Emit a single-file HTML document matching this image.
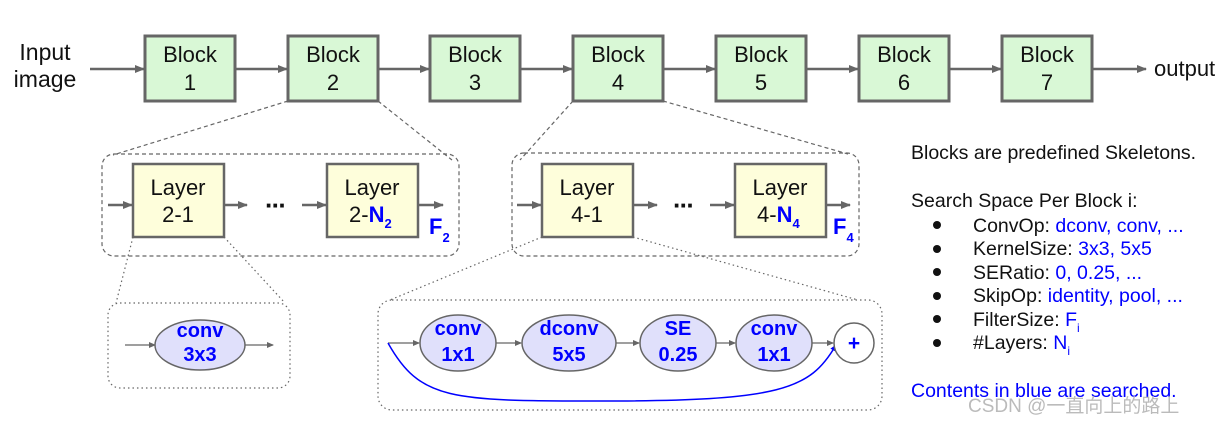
<!DOCTYPE html>
<html><head><meta charset="utf-8"><style>
body{margin:0;background:#fff}
svg{display:block}
text{font-family:"Liberation Sans",Arial,sans-serif}
</style></head><body>
<svg width="1228" height="422" viewBox="0 0 1228 422" xmlns="http://www.w3.org/2000/svg">
<defs>
<marker id="a" markerWidth="10" markerHeight="8" refX="9" refY="4" orient="auto" markerUnits="userSpaceOnUse"><path d="M0,0 L10,4 L0,8 z" fill="#666"/></marker>
<marker id="s" markerWidth="7" markerHeight="6" refX="6" refY="3" orient="auto" markerUnits="userSpaceOnUse"><path d="M0,0 L7,3 L0,6 z" fill="#666"/></marker>
<marker id="b" markerWidth="7" markerHeight="6" refX="6" refY="3" orient="auto" markerUnits="userSpaceOnUse"><path d="M0,0 L7,3 L0,6 z" fill="#00f"/></marker>
</defs>
<text x="45" y="60" font-size="23" text-anchor="middle" fill="#111">Input</text>
<text x="45" y="87" font-size="23" text-anchor="middle" fill="#111">image</text>
<g stroke="#666" stroke-width="2.5" fill="none" marker-end="url(#a)">
<line x1="90" y1="69" x2="144" y2="69"/>
<line x1="236" y1="69" x2="287" y2="69"/>
<line x1="379" y1="69" x2="429" y2="69"/>
<line x1="521" y1="69" x2="572" y2="69"/>
<line x1="664" y1="69" x2="715" y2="69"/>
<line x1="807" y1="69" x2="858" y2="69"/>
<line x1="950" y1="69" x2="1001" y2="69"/>
<line x1="1093" y1="69" x2="1146" y2="69"/>
</g>
<g fill="#d9f8d6" stroke="#666" stroke-width="3">
<rect x="145" y="36" width="90" height="65"/>
<rect x="288" y="36" width="90" height="65"/>
<rect x="430" y="36" width="90" height="65"/>
<rect x="573" y="36" width="90" height="65"/>
<rect x="716" y="36" width="90" height="65"/>
<rect x="859" y="36" width="90" height="65"/>
<rect x="1002" y="36" width="90" height="65"/>
</g>
<g font-size="22" text-anchor="middle" fill="#111">
<text x="190" y="62">Block</text><text x="190" y="90">1</text>
<text x="333" y="62">Block</text><text x="333" y="90">2</text>
<text x="475" y="62">Block</text><text x="475" y="90">3</text>
<text x="618" y="62">Block</text><text x="618" y="90">4</text>
<text x="761" y="62">Block</text><text x="761" y="90">5</text>
<text x="904" y="62">Block</text><text x="904" y="90">6</text>
<text x="1047" y="62">Block</text><text x="1047" y="90">7</text>
</g>
<text x="1154" y="76" font-size="22" fill="#111">output</text>
<g stroke="#666" stroke-width="1.2" stroke-dasharray="4,3" fill="none">
<line x1="288" y1="101" x2="113" y2="155"/>
<line x1="378" y1="101" x2="452" y2="160"/>
<line x1="573" y1="101" x2="520" y2="160"/>
<line x1="663" y1="101" x2="848" y2="154"/>
<rect x="102" y="154" width="357" height="102" rx="12"/>
<rect x="512" y="153" width="347" height="103" rx="12"/>
</g>
<g stroke="#666" stroke-width="2.5" fill="none" marker-end="url(#a)">
<line x1="108" y1="205" x2="132" y2="205"/>
<line x1="225" y1="205" x2="247" y2="205"/>
<line x1="302" y1="205" x2="326" y2="205"/>
<line x1="419" y1="205" x2="443" y2="205"/>
<line x1="517" y1="205" x2="541" y2="205"/>
<line x1="634" y1="205" x2="657" y2="205"/>
<line x1="710" y1="205" x2="734" y2="205"/>
<line x1="826" y1="205" x2="850" y2="205"/>
</g>
<g fill="#fefedb" stroke="#666" stroke-width="2.5">
<rect x="133" y="164" width="91" height="73"/>
<rect x="327" y="164" width="91" height="73"/>
<rect x="542" y="164" width="91" height="73"/>
<rect x="735" y="164" width="91" height="73"/>
</g>
<g font-size="22" fill="#111">
<text x="178" y="195" text-anchor="middle">Layer</text><text x="178" y="222" text-anchor="middle">2-1</text>
<text x="372" y="195" text-anchor="middle">Layer</text>
<text x="349" y="222">2-<tspan fill="#00f" font-weight="bold">N</tspan><tspan fill="#00f" font-weight="bold" font-size="13" dy="6">2</tspan></text>
<text x="587" y="195" text-anchor="middle">Layer</text><text x="587" y="222" text-anchor="middle">4-1</text>
<text x="780" y="195" text-anchor="middle">Layer</text>
<text x="757" y="222">4-<tspan fill="#00f" font-weight="bold">N</tspan><tspan fill="#00f" font-weight="bold" font-size="13" dy="6">4</tspan></text>
</g>
<g fill="#00f" font-weight="bold">
<text x="429" y="234" font-size="22">F<tspan font-size="13" dy="8">2</tspan></text>
<text x="833" y="234" font-size="22">F<tspan font-size="13" dy="8">4</tspan></text>
</g>
<text x="275" y="214" font-size="26" font-weight="bold" text-anchor="middle" fill="#111" letter-spacing="-2">···</text>
<text x="683" y="214" font-size="26" font-weight="bold" text-anchor="middle" fill="#111" letter-spacing="-2">···</text>
<g stroke="#666" stroke-width="1.2" stroke-dasharray="1.5,3" fill="none">
<line x1="133" y1="237" x2="116" y2="303"/>
<line x1="224" y1="237" x2="285" y2="303"/>
<line x1="542" y1="237" x2="390" y2="300"/>
<line x1="633" y1="237" x2="858" y2="300"/>
<rect x="108" y="303" width="182" height="85" rx="12"/>
<rect x="378" y="300" width="504" height="110" rx="14"/>
</g>
<g stroke="#666" stroke-width="1.2" fill="none" marker-end="url(#s)">
<line x1="125" y1="345" x2="155" y2="345"/>
<line x1="245" y1="345" x2="273" y2="345"/>
<line x1="388" y1="343" x2="419" y2="343"/>
<line x1="496" y1="343" x2="521" y2="343"/>
<line x1="616" y1="343" x2="639" y2="343"/>
<line x1="716" y1="343" x2="735" y2="343"/>
<line x1="812" y1="343" x2="833" y2="343"/>
</g>
<path d="M388,343 C420,400 450,401 600,401 C780,401 810,390 836,345" stroke="#00f" stroke-width="1.5" fill="none" marker-end="url(#b)"/>
<g fill="#e0e0fb" stroke="#666" stroke-width="1.5">
<ellipse cx="200" cy="345" rx="45" ry="25"/>
<ellipse cx="458" cy="343" rx="38" ry="28"/>
<ellipse cx="569" cy="343" rx="47" ry="28"/>
<ellipse cx="678" cy="343" rx="38" ry="28"/>
<ellipse cx="774" cy="343" rx="38" ry="28"/>
</g>
<circle cx="854" cy="343" r="20" fill="#fff" stroke="#666" stroke-width="1.5"/>
<g font-size="20" font-weight="bold" fill="#00f" text-anchor="middle">
<text x="200" y="337">conv</text><text x="200" y="361">3x3</text>
<text x="458" y="335">conv</text><text x="458" y="361">1x1</text>
<text x="569" y="335">dconv</text><text x="569" y="361">5x5</text>
<text x="678" y="335">SE</text><text x="678" y="361">0.25</text>
<text x="774" y="335">conv</text><text x="774" y="361">1x1</text>
<text x="854" y="350" font-size="21">+</text>
</g>
<g font-size="19.5" fill="#111">
<text x="911" y="159">Blocks are predefined Skeletons.</text>
<text x="911" y="207">Search Space Per Block i:</text>
<text x="973" y="232">ConvOp: <tspan fill="#00f">dconv, conv, ...</tspan></text>
<text x="973" y="255">KernelSize: <tspan fill="#00f">3x3, 5x5</tspan></text>
<text x="973" y="279">SERatio: <tspan fill="#00f">0, 0.25, ...</tspan></text>
<text x="973" y="302">SkipOp: <tspan fill="#00f">identity, pool, ...</tspan></text>
<text x="973" y="326">FilterSize: <tspan fill="#00f">F</tspan><tspan fill="#00f" font-size="12" dy="6">i</tspan></text>
<text x="973" y="349">#Layers: <tspan fill="#00f">N</tspan><tspan fill="#00f" font-size="12" dy="6">i</tspan></text>
<text x="911" y="397" fill="#00f">Contents in blue are searched.</text>
</g>
<g fill="#111"><circle cx="937" cy="225" r="4"/><circle cx="937" cy="249" r="4"/><circle cx="937" cy="272" r="4"/><circle cx="937" cy="296" r="4"/><circle cx="937" cy="319" r="4"/><circle cx="937" cy="343" r="4"/></g>
<text x="968" y="412" font-size="19" fill="#bbb" font-family="Liberation Sans, Noto Sans CJK SC, sans-serif">CSDN @一直向上的路上</text>
</svg>
</body></html>
